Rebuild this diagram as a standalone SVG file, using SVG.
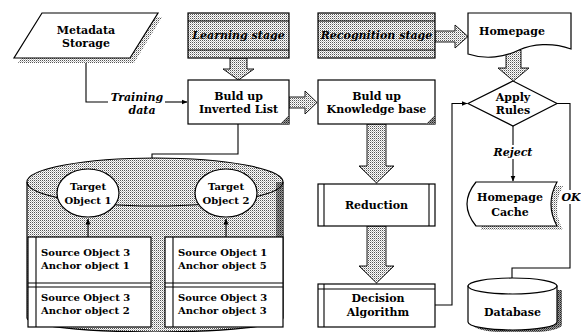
<svg xmlns="http://www.w3.org/2000/svg" width="581" height="332" viewBox="0 0 581 332">
<defs>
  <!-- stipple used for shaded fills -->
  <pattern id="dots" width="2" height="2" patternUnits="userSpaceOnUse">
    <rect width="2" height="2" fill="#fff"/>
    <rect width="1" height="1" fill="#555"/>
    <rect x="1" y="1" width="1" height="1" fill="#bbb"/>
  </pattern>
  <pattern id="darkdots" width="2" height="2" patternUnits="userSpaceOnUse">
    <rect width="2" height="2" fill="#999"/>
    <rect width="1" height="1" fill="#222"/>
    <rect x="1" y="1" width="1" height="1" fill="#555"/>
  </pattern>
  <marker id="arr" markerWidth="6" markerHeight="6" refX="5.5" refY="3" orient="auto" markerUnits="userSpaceOnUse">
    <path d="M0,0.5 L6,3 L0,5.5 z" fill="#000"/>
  </marker>
</defs>
<style>
  .ln{fill:none;stroke:#000;stroke-width:1.1}
  .box{fill:#fff;stroke:#000;stroke-width:1.2}
  .dot{fill:url(#dots);stroke:#000;stroke-width:1.2}
  .blk{fill:url(#dots);stroke:#000;stroke-width:0.9}
  .shadow{fill:url(#dots);stroke:none}
  .fold{fill:url(#darkdots);stroke:none}
  text{font-family:"DejaVu Serif","Liberation Serif",serif;font-weight:bold;font-size:11px;fill:#000;text-anchor:middle}
  .it{font-style:italic}
  .lt{text-anchor:start;font-size:10px}
  .tg{font-size:10px}
</style>

<!-- block arrows between stages -->
<g id="block-arrows">
  <polygon class="blk" points="230,58 247,58 247,69 254,69 238.5,80 223,69 230,69"/>
  <polygon class="blk" points="289,97 305,97 305,91 317,102.5 305,114 305,108 289,108"/>
  <polygon class="blk" points="435,31 455,31 455,25 468,36.5 455,48 455,42 435,42"/>
  <polygon class="blk" points="506,50 521,50 521,68 529,68 513.5,81 498,68 506,68"/>
  <polygon class="blk" points="367,124 386,124 386,166 394,166 376.5,183 359,166 367,166"/>
  <polygon class="blk" points="367,226 386,226 386,266 394,266 376.5,283 359,266 367,266"/>
</g>

<!-- thin connectors -->
<g id="connectors">
  <path class="ln" d="M86,58 V102 H108"/>
  <path class="ln" d="M165,102 H187" marker-end="url(#arr)"/>
  <path class="ln" d="M238,124 V154 H152 V180" marker-end="url(#arr)"/>
  <path class="ln" d="M513,126 V145"/>
  <path class="ln" d="M513,159 V181" marker-end="url(#arr)"/>
  <path class="ln" d="M557,103.5 H570 V190"/>
  <path class="ln" d="M570,204 V268 H512 V285" marker-end="url(#arr)"/>
  <path class="ln" d="M435,305 H452 V103.5 H467" marker-end="url(#arr)"/>
  <text class="it" x="137" y="101">Training</text>
  <text class="it" x="142" y="114">data</text>
  <text class="it" x="513" y="156">Reject</text>
  <text class="it" x="571" y="201">OK</text>
</g>

<g id="metadata-storage">
  <polygon class="shadow" points="46,17 162,17 134,63 18,63"/>
  <polygon class="box" points="42,13 158,13 130,58 14,58"/>
  <text x="86" y="34">Metadata</text>
  <text x="86" y="47">Storage</text>
</g>

<g id="learning-stage">
  <rect class="dot" x="188" y="13" width="101" height="45"/>
  <path class="ln" d="M188,21 H289 M188,50 H289"/>
  <text class="it" x="238.5" y="39">Learning stage</text>
</g>

<g id="recognition-stage">
  <rect class="dot" x="318" y="13" width="117" height="45"/>
  <path class="ln" d="M318,21 H435 M318,50 H435"/>
  <text class="it" x="376.5" y="39">Recognition stage</text>
</g>

<g id="homepage">
  <path class="box" d="M468,13 H571 V49 C552,42 532,44 519,50 C505,57 486,60 468,54 Z"/>
  <text x="512" y="35">Homepage</text>
</g>

<g id="inverted-list">
  <rect class="box" x="188" y="80" width="101" height="44"/>
  <polygon class="fold" points="289,115 289,124 280,124"/>
  <text x="238.5" y="100">Buld up</text>
  <text x="238.5" y="113">Inverted List</text>
</g>

<g id="knowledge-base">
  <rect class="box" x="318" y="80" width="117" height="44"/>
  <polygon class="fold" points="435,115 435,124 426,124"/>
  <text x="376.5" y="100">Buld up</text>
  <text x="376.5" y="113">Knowledge base</text>
</g>

<g id="reduction">
  <rect class="box" x="318" y="184" width="117" height="42"/>
  <path class="ln" d="M324,184 V226 M429,184 V226"/>
  <text x="376.5" y="209">Reduction</text>
</g>

<g id="decision-algorithm">
  <rect class="box" x="318" y="284" width="117" height="43"/>
  <path class="ln" d="M318,289 H435 M324,284 V327"/>
  <text x="378" y="302">Decision</text>
  <text x="378" y="316">Algorithm</text>
</g>

<g id="apply-rules">
  <polygon class="box" points="513,81 557,103.5 513,126 468,103.5"/>
  <text x="513" y="101">Apply</text>
  <text x="513" y="114">Rules</text>
</g>

<g id="homepage-cache">
  <path class="shadow" d="M481,186 H563 Q551,208 563,230 H481 Z"/>
  <path class="box" d="M476,182 H557 Q545,204 557,226 H476 Q458,204 476,182 Z"/>
  <text x="510" y="201">Homepage</text>
  <text x="510" y="216">Cache</text>
</g>

<g id="database">
  <path fill="url(#darkdots)" d="M473,290 V325 A44.5,8 0 0 0 562,325 V290 Z"/>
  <path class="box" d="M468,286 V322 A44.5,8 0 0 0 557,322 V286 Z"/>
  <ellipse class="box" cx="512.5" cy="286" rx="44.5" ry="8"/>
  <text x="512.5" y="316">Database</text>
</g>

<g id="inverted-list-store">
  <path class="dot" d="M27,182 V318 A128,14 0 0 0 283,318 V182 A128,24 0 0 0 27,182 Z"/>
  <rect x="276" y="182" width="7" height="55" fill="url(#darkdots)"/>
  <path class="ln" d="M27,182 A128,24 0 0 0 283,182"/>
  <path class="ln" d="M88,237 V219" marker-end="url(#arr)"/>
  <path class="ln" d="M226,237 V219" marker-end="url(#arr)"/>
  <ellipse class="box" cx="88" cy="193" rx="31" ry="24"/>
  <text class="tg" x="88" y="190">Target</text>
  <text class="tg" x="88" y="204">Object 1</text>
  <ellipse class="box" cx="226" cy="193" rx="31" ry="24"/>
  <text class="tg" x="226" y="190">Target</text>
  <text class="tg" x="226" y="204">Object 2</text>
</g>

<g id="table-target-1">
  <rect class="box" x="28" y="237" width="123" height="90"/>
  <path class="ln" d="M36,237 V327 M28,283 H151 M28,287 H151"/>
  <text class="lt" x="41" y="256">Source Object 3</text>
  <text class="lt" x="41" y="269">Anchor object 1</text>
  <text class="lt" x="41" y="301">Source Object 3</text>
  <text class="lt" x="41" y="314">Anchor object 2</text>
</g>

<g id="table-target-2">
  <rect class="box" x="165" y="237" width="118" height="90"/>
  <path class="ln" d="M173,237 V327 M165,283 H283 M165,287 H283"/>
  <text class="lt" x="178" y="256">Source Object 1</text>
  <text class="lt" x="178" y="269">Anchor object 5</text>
  <text class="lt" x="178" y="301">Source Object 3</text>
  <text class="lt" x="178" y="314">Anchor object 3</text>
</g>
</svg>
